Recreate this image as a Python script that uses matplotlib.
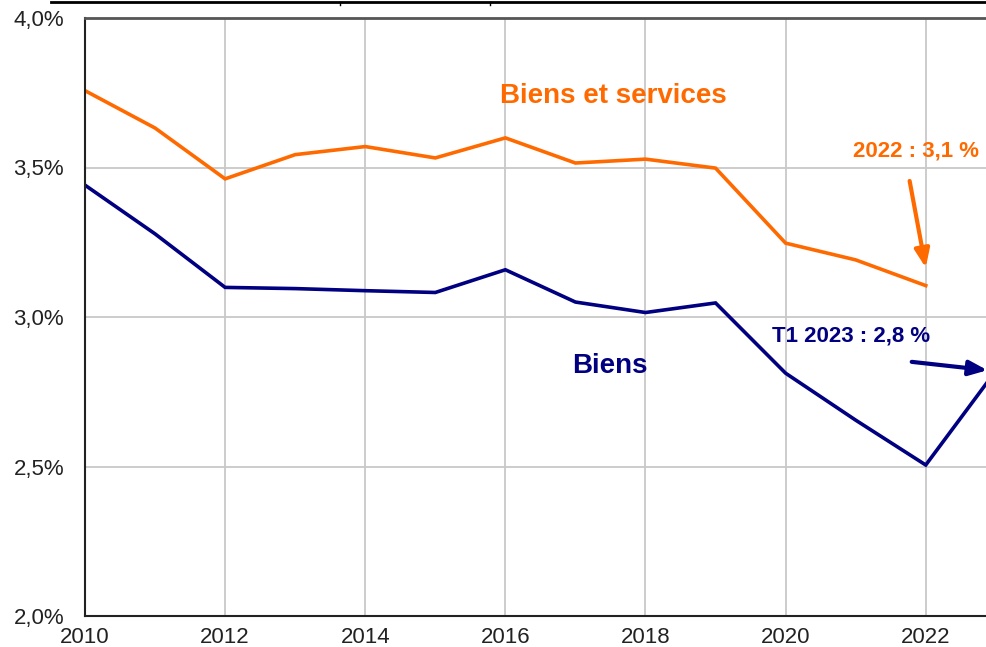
import matplotlib.pyplot as plt
from matplotlib.lines import Line2D

# donnees
annees = [2010, 2011, 2012, 2013, 2014, 2015, 2016, 2017, 2018, 2019, 2020, 2021, 2022]
biens_services = [3.757, 3.632, 3.462, 3.543, 3.570, 3.532, 3.599, 3.515, 3.528, 3.498, 3.247, 3.191, 3.105]

annees_biens = [2010, 2011, 2012, 2013, 2014, 2015, 2016, 2017, 2018, 2019, 2020, 2021, 2022, 2023]
biens = [3.441, 3.278, 3.099, 3.095, 3.088, 3.082, 3.158, 3.050, 3.015, 3.047, 2.812, 2.655, 2.505, 2.82]

xticks = [2010, 2012, 2014, 2016, 2018, 2020, 2022]
yticks = [2.0, 2.5, 3.0, 3.5, 4.0]
ytick_labels = ['2,0%', '2,5%', '3,0%', '3,5%', '4,0%']

orange = '#FF6A00'
bleu = '#000080'

plt.rcParams['font.family'] = ['Liberation Sans', 'DejaVu Sans']

W, H = 986, 647
fig = plt.figure(figsize=(W / 100, H / 100), dpi=100)
ax = fig.add_axes([85 / W, 1 - 616 / H, 1 - 85 / W, (616 - 18) / H])

ax.plot(annees, biens_services, color=orange, lw=2.6, solid_joinstyle='miter')
ax.plot(annees_biens, biens, color=bleu, lw=2.6, solid_joinstyle='miter')

ax.set_xlim(2010, 2022.86)
ax.set_ylim(2.0, 4.0)
ax.set_xticks(xticks)
ax.set_xticklabels([str(a) for a in xticks], fontsize=16, color='#222222')
ax.set_yticks(yticks)
ax.set_yticklabels(ytick_labels, fontsize=16, color='#222222')
ax.tick_params(length=0)
ax.tick_params(axis='y', pad=15)
ax.tick_params(axis='x', pad=8)
ax.grid(True, color='#c8c8c8', lw=1.3)
ax.set_axisbelow(True)

for s in ['left', 'bottom']:
    ax.spines[s].set_color('#222222')
    ax.spines[s].set_linewidth(1.5)
ax.spines['top'].set_color('#555555')
ax.spines['top'].set_linewidth(2)
ax.spines['right'].set_visible(False)

# libelles des series
ax.text(2017.54, 3.739, 'Biens et services', color=orange, fontsize=20,
        fontweight='bold', ha='center', va='center')
ax.text(2017.49, 2.836, 'Biens', color=bleu, fontsize=20,
        fontweight='bold', ha='center', va='center')

# annotations avec fleches
ax.text(2020.96, 3.556, '2022 : 3,1 %', color=orange, fontsize=16,
        fontweight='bold', ha='left', va='center')
ax.annotate('', xy=(2022.0, 3.165), xytext=(2021.77, 3.455),
            arrowprops=dict(arrowstyle='-|>,head_length=1.1,head_width=0.45',
                            color=orange, lw=3, shrinkA=0, shrinkB=0))
ax.text(2019.8, 2.938, 'T1 2023 : 2,8 %', color=bleu, fontsize=16,
        fontweight='bold', ha='left', va='center')
ax.annotate('', xy=(2022.88, 2.822), xytext=(2021.8, 2.85),
            arrowprops=dict(arrowstyle='-|>,head_length=1.1,head_width=0.45',
                            color=bleu, lw=3, shrinkA=0, shrinkB=0),
            annotation_clip=False)

# trait d'un element coupe en haut de l'image
fig.add_artist(Line2D([51 / W, 1], [1 - 1.5 / H, 1 - 1.5 / H], color='black', lw=2))
for xp in [340, 490]:
    fig.add_artist(Line2D([xp / W, xp / W], [1 - 1.5 / H, 1 - 5 / H], color='black', lw=1))

fig.savefig('out.png', dpi=100)
